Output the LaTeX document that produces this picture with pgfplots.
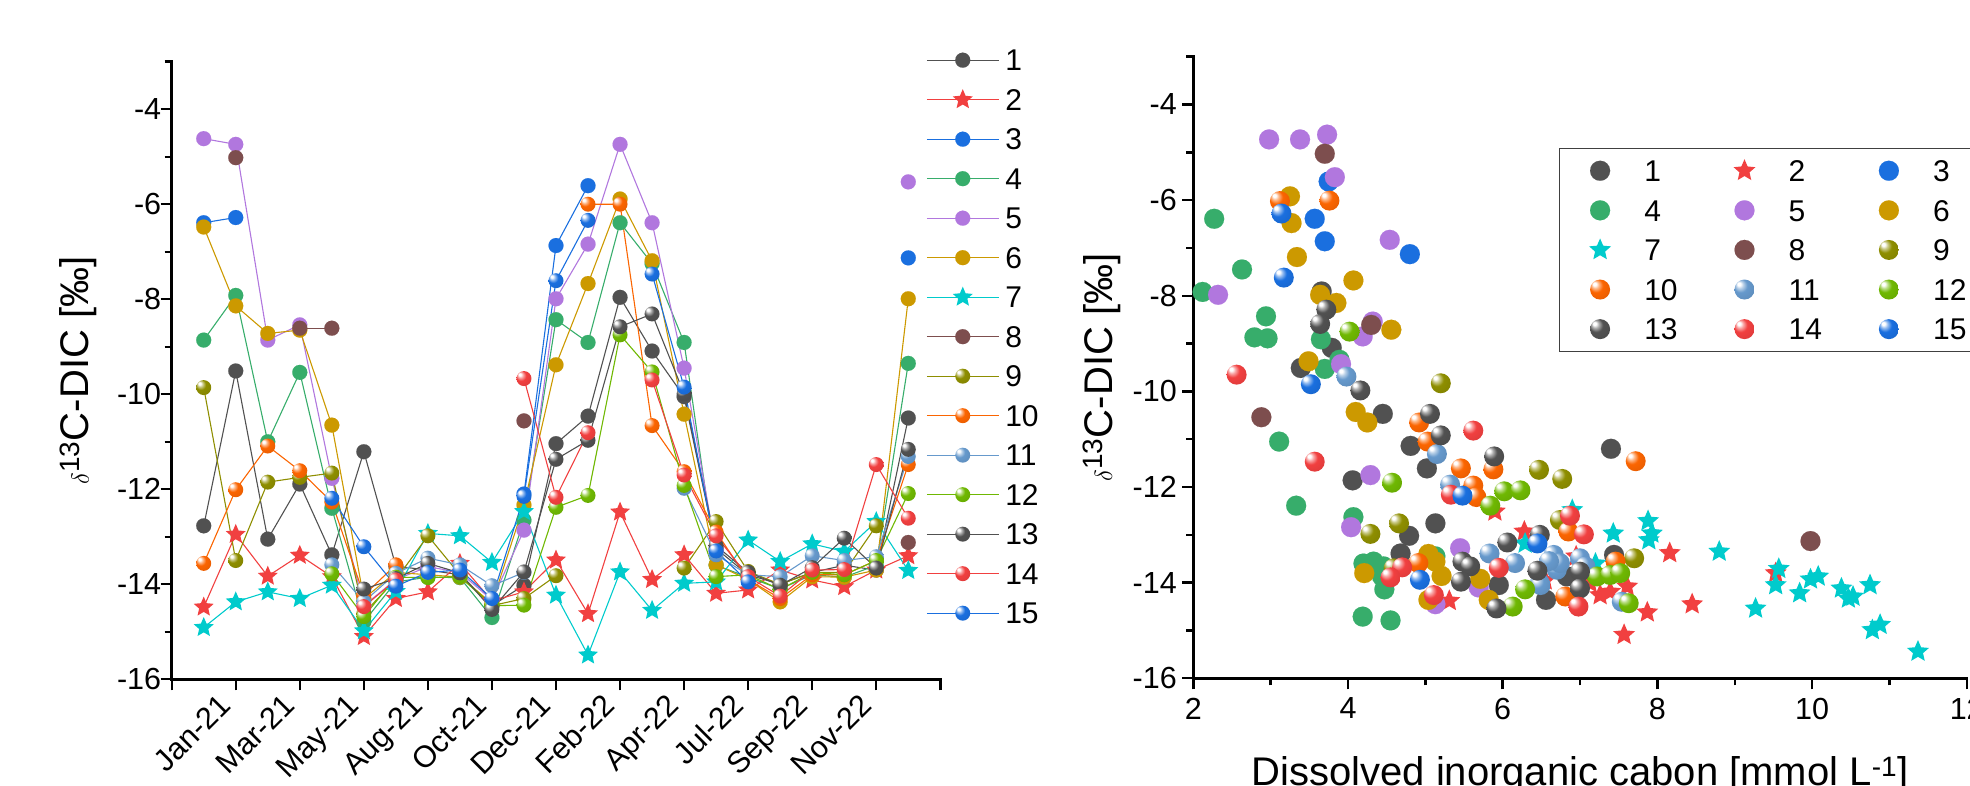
\documentclass[border=0pt]{standalone}
\usepackage{pgfplots}
\pgfplotsset{compat=1.18}
\usepackage{pgfplotstable}
\usepackage{fontspec}
\setmainfont{Liberation Sans}

\definecolor{c1}{HTML}{515151}
\definecolor{c2}{HTML}{F14040}
\definecolor{c3}{HTML}{1A6FDF}
\definecolor{c4}{HTML}{37AD6B}
\definecolor{c5}{HTML}{B177DE}
\definecolor{c6}{HTML}{CC9900}
\definecolor{c7}{HTML}{00CBCC}
\definecolor{c8}{HTML}{7D4E4E}
\definecolor{c9}{HTML}{8E8E00}
\definecolor{c10}{HTML}{FB6501}
\definecolor{c11}{HTML}{6699CC}
\definecolor{c12}{HTML}{6FB802}
\definecolor{c13}{HTML}{515151}
\definecolor{c14}{HTML}{F14040}
\definecolor{c15}{HTML}{1A6FDF}

\newcommand\defball[1]{%
 \pgfdeclareradialshading{ballsh#1}{\pgfqpoint{-15bp}{15bp}}{color(0bp)=(white); color(4bp)=(white); color(9bp)=(c#1!45!white); color(17bp)=(c#1); color(50bp)=(c#1!85!black)}%
 \pgfdeclareplotmark{ball#1}{\pgfpathcircle{\pgfpointorigin}{\pgfplotmarksize}\pgfshadepath{ballsh#1}{0}\pgfusepath{discard}}}
\defball{9}\defball{10}\defball{11}\defball{12}\defball{13}\defball{14}\defball{15}

\pgfdeclareplotmark{fstar}{%
 \pgfpathmoveto{\pgfpointpolar{90}{\pgfplotmarksize}}%
 \pgfpathlineto{\pgfpointpolar{126}{0.46\pgfplotmarksize}}%
 \pgfpathlineto{\pgfpointpolar{162}{\pgfplotmarksize}}%
 \pgfpathlineto{\pgfpointpolar{198}{0.46\pgfplotmarksize}}%
 \pgfpathlineto{\pgfpointpolar{234}{\pgfplotmarksize}}%
 \pgfpathlineto{\pgfpointpolar{270}{0.46\pgfplotmarksize}}%
 \pgfpathlineto{\pgfpointpolar{306}{\pgfplotmarksize}}%
 \pgfpathlineto{\pgfpointpolar{342}{0.46\pgfplotmarksize}}%
 \pgfpathlineto{\pgfpointpolar{18}{\pgfplotmarksize}}%
 \pgfpathlineto{\pgfpointpolar{54}{0.46\pgfplotmarksize}}%
 \pgfpathclose\pgfusepathqfill}

\pgfplotsset{
 myax/.style={scale only axis, axis lines*=left, clip=false,
  axis line style={line width=2.7pt, line cap=rect},
  tick align=outside, major tick length=11pt, minor tick length=7pt,
  tick style={line width=2.4pt, black},
  tick label style={font=\fontsize{30.5}{36}\selectfont},
  label style={font=\fontsize{40}{48}\selectfont},
  ymin=-16, ymax=-3, ytick={-16,-14,...,-4},
  yticklabels={-16,-14,-12,-10,-8,-6,-4},
  minor ytick={-15,-13,...,-3},
  unbounded coords=jump},
 lc/.style={line width=1.1pt, color=#1, mark=*, mark size=7.5pt, mark options={solid, line width=0.1pt, fill=#1, draw=#1}},
 ls/.style={line width=1.1pt, color=#1, mark=fstar, mark size=10.5pt, mark options={solid}},
 lb/.style={line width=1.1pt, color=c#1, mark=ball#1, mark size=7.5pt, mark options={solid}},
 rimg/.style={legend image code/.code={\path[draw=none,fill=none] (-16pt,-12pt) rectangle (16pt,12pt); \draw[##1] plot coordinates {(0pt,0pt)};}},
 rc/.style={only marks, color=#1, mark=*, mark size=10pt, mark options={line width=0.1pt, fill=#1, draw=#1}, rimg},
 rs/.style={only marks, color=#1, mark=fstar, mark size=11.5pt, rimg},
 rb/.style={only marks, color=c#1, mark=ball#1, mark size=10pt, rimg},
}

\pgfplotstableread{
n s1 s2 s3 s4 s5 s6 s7 s8 s9 s10 s11 s12 s13 s14 s15
1 -12.77 -14.48 -6.39 -8.86 -4.62 -6.48 -14.91 nan -9.86 -13.56 nan nan nan nan nan
2 -9.51 -12.95 -6.28 -7.92 -4.74 -8.14 -14.37 -5.02 -13.50 -12.01 nan nan nan nan nan
3 -13.05 -13.83 nan -11.00 -8.86 -8.72 -14.16 nan -11.85 -11.09 nan nan nan nan nan
4 -11.89 -13.39 nan -9.54 -8.54 -8.65 -14.30 -8.61 -11.75 -11.61 nan nan nan nan nan
5 -13.38 -13.84 nan -12.40 -11.77 -10.65 -14.02 -8.61 -11.66 -12.27 -13.59 -13.78 nan nan -12.19
6 -11.21 -15.10 nan -14.79 -14.45 -14.30 -14.98 nan -14.61 -14.23 -14.37 -14.68 -14.10 -14.47 -13.21
7 -13.62 -14.30 nan -13.95 -13.90 -13.75 -14.15 nan -13.90 -13.59 -13.77 -13.85 -13.88 -13.91 -14.04
8 -13.70 -14.16 nan -13.85 -13.63 -13.80 -12.93 nan -12.98 nan -13.45 -13.86 -13.56 nan -13.75
9 -13.80 -13.56 nan -13.86 -13.75 -13.85 -12.98 nan -13.80 nan -13.59 -13.84 -13.76 nan -13.70
10 -14.45 -14.35 nan -14.70 -14.33 -14.40 -13.54 nan -14.45 nan -14.03 -14.45 -14.53 nan -14.30
11 -14.02 -14.16 -12.10 -12.65 -12.86 -12.33 -12.47 -10.56 -14.30 nan -13.75 -14.44 -13.74 -9.67 -12.15
12 -11.04 -13.49 -6.87 -8.43 -7.99 -9.38 -14.23 nan -13.82 nan nan -12.38 -11.37 -12.17 -7.61
13 -10.46 -14.62 -5.61 -8.91 -6.84 -7.67 -15.49 nan nan -6.00 nan -12.13 -10.97 -10.81 -6.34
14 -7.96 -12.48 nan -6.39 -4.74 -5.89 -13.74 nan nan -6.00 nan -8.75 -8.58 nan nan
15 -9.09 -13.90 nan -7.25 -6.39 -7.19 -14.55 nan nan -10.66 nan -9.53 -8.31 -9.70 -7.47
16 -10.05 -13.38 nan -8.91 -9.45 -10.42 -13.98 nan -13.66 -11.63 -11.98 -11.92 -9.99 -11.70 -9.85
17 -13.25 -14.19 nan -13.60 -13.30 -13.59 -13.95 nan -12.68 -12.90 -13.38 -13.84 -13.19 -12.98 -13.30
18 -13.80 -14.12 nan -13.85 nan -13.90 -13.07 nan -13.73 -13.90 -13.80 -13.80 -13.75 -13.84 -13.95
19 -14.00 -13.70 nan -14.10 nan -14.37 -13.52 nan -14.00 -14.30 -13.84 -14.11 -14.02 -14.25 nan
20 -13.75 -13.91 nan -13.80 nan -13.84 -13.15 nan -13.75 -13.80 -13.40 -13.75 -13.65 -13.70 nan
21 -13.60 -14.05 nan -13.85 nan -13.85 -13.31 nan -13.75 -13.80 -13.50 -13.80 -13.03 -13.69 nan
22 -13.70 -13.70 nan -13.60 nan -13.70 -12.68 nan -12.77 -13.50 -13.42 -13.50 -13.66 -11.48 nan
23 -10.50 -13.40 -7.13 -9.35 -5.53 -7.99 -13.71 -13.12 nan -11.48 -11.31 -12.09 -11.16 -12.61 nan
}\leftdata

\begin{document}
\begin{tikzpicture}
\begin{axis}[myax, at={(171.7pt,106.7pt)}, anchor=south west,
  width=768.6pt, height=617.6pt,
  xmin=0, xmax=24, xtick={0,2,...,24},
  xticklabels={{},Jan-21,Mar-21,May-21,Aug-21,Oct-21,Dec-21,Feb-22,Apr-22,Jul-22,Sep-22,Nov-22,{}},
  xticklabel style={xshift=-3pt, yshift=-17pt, rotate=45, anchor=base east, inner sep=0pt},
  yticklabel style={xshift=4pt},
  ylabel={$\delta$\textsuperscript{13}C-DIC [‰]},
  ylabel style={at={(axis description cs:-0.1076,0.5)}, anchor=base},
  legend image code/.code={\path[draw=none,fill=none] (0pt,-12pt) rectangle (72pt,12pt); \draw[mark repeat=2,mark phase=2,#1] plot coordinates {(0pt,0pt) (36pt,0pt) (72pt,0pt)};},
  legend cell align=left,
  legend style={at={(axis description cs:0.9814,1.0222)}, anchor=north west, draw=none, fill=none,
    inner sep=0pt, row sep=15.5pt, font=\fontsize{30}{36}\selectfont,
    nodes={inner sep=0pt, text height=21.6pt, text depth=0pt},
    /tikz/every odd column/.append style={column sep=6pt}},
]
\addplot[lc=c1] table[x=n,y=s1] {\leftdata}; \addlegendentry{1}
\addplot[ls=c2] table[x=n,y=s2] {\leftdata}; \addlegendentry{2}
\addplot[lc=c3] table[x=n,y=s3] {\leftdata}; \addlegendentry{3}
\addplot[lc=c4] table[x=n,y=s4] {\leftdata}; \addlegendentry{4}
\addplot[lc=c5] table[x=n,y=s5] {\leftdata}; \addlegendentry{5}
\addplot[lc=c6] table[x=n,y=s6] {\leftdata}; \addlegendentry{6}
\addplot[ls=c7] table[x=n,y=s7] {\leftdata}; \addlegendentry{7}
\addplot[lc=c8] table[x=n,y=s8] {\leftdata}; \addlegendentry{8}
\addplot[lb=9] table[x=n,y=s9] {\leftdata}; \addlegendentry{9}
\addplot[lb=10] table[x=n,y=s10] {\leftdata}; \addlegendentry{10}
\addplot[lb=11] table[x=n,y=s11] {\leftdata}; \addlegendentry{11}
\addplot[lb=12] table[x=n,y=s12] {\leftdata}; \addlegendentry{12}
\addplot[lb=13] table[x=n,y=s13] {\leftdata}; \addlegendentry{13}
\addplot[lb=14] table[x=n,y=s14] {\leftdata}; \addlegendentry{14}
\addplot[lb=15] table[x=n,y=s15] {\leftdata}; \addlegendentry{15}
\end{axis}

\begin{axis}[myax, at={(1193.3pt,107.7pt)}, anchor=south west,
  width=773.4pt, height=621.6pt,
  xmin=2, xmax=12, xtick={2,4,...,12}, xticklabels={2,4,6,8,10,12},
  minor xtick={3,5,...,11},
  xticklabel style={yshift=-5pt},
  yticklabel style={xshift=-2pt},
  ylabel={$\delta$\textsuperscript{13}C-DIC [‰]},
  ylabel style={at={(axis description cs:-0.1051,0.5)}, anchor=base},
  xlabel={Dissolved inorganic cabon [mmol L\textsuperscript{-1}]},
  xlabel style={at={(axis description cs:0.5,-0.1717)}, anchor=base},
  legend columns=3, legend cell align=left,
  legend style={at={(axis description cs:0.4725,0.8536)}, anchor=north west, draw=black!75, line width=1.5pt, fill=white,
    inner xsep=24.6pt, inner ysep=10.3pt, row sep=15.6pt, font=\fontsize{30}{36}\selectfont,
    nodes={inner sep=0pt, text height=21.6pt, text depth=0pt, text width=45pt, align=left},
    /tikz/every odd column/.append style={column sep=28.2pt},
    /tikz/every even column/.append style={column sep=39.2pt}},
]
\addplot[rc=c1] coordinates {(3.66,-7.91) (3.79,-9.09) (3.39,-9.51) (4.45,-10.47) (4.81,-11.14) (5.02,-11.61) (4.06,-11.86) (5.13,-12.76) (4.79,-13.02) (4.68,-13.39) (5.95,-14.05) (6.56,-14.36) (7.40,-11.20) (6.83,-13.87) (7.44,-13.42)}; \addlegendentry{1}
\addplot[rs=c2] coordinates {(5.90,-12.51) (6.28,-12.93) (5.31,-14.38) (8.16,-13.38) (9.53,-13.80) (8.45,-14.45) (7.87,-14.62) (7.57,-15.09) (7.26,-14.26) (7.39,-14.19) (7.61,-14.08) (7.13,-14.01) (6.95,-13.45) (6.55,-13.95)}; \addlegendentry{2}
\addplot[rc=c3] coordinates {(3.75,-5.61) (3.57,-6.39) (3.70,-6.86) (4.80,-7.13)}; \addlegendentry{3}
\addplot[rc=c4] coordinates {(2.27,-6.39) (2.63,-7.45) (2.12,-7.92) (2.94,-8.43) (2.79,-8.87) (2.96,-8.89) (3.65,-8.91) (3.89,-9.34) (3.70,-9.53) (3.11,-11.05) (3.33,-12.39) (4.07,-12.63) (4.20,-13.60) (4.33,-13.56) (4.46,-13.66) (4.44,-13.87) (4.47,-14.14) (4.19,-14.71) (4.55,-14.79) (5.13,-13.45)}; \addlegendentry{4}
\addplot[rc=c5] coordinates {(2.98,-4.73) (3.38,-4.73) (3.73,-4.63) (3.83,-5.52) (4.54,-6.83) (2.32,-7.98) (4.32,-8.54) (4.19,-8.85) (3.91,-9.43) (4.29,-11.75) (4.04,-12.84) (5.45,-13.28) (5.13,-14.45) (5.69,-14.10)}; \addlegendentry{5}
\addplot[rc=c6] coordinates {(3.25,-5.92) (3.27,-6.48) (3.34,-7.19) (4.07,-7.68) (3.64,-7.98) (3.85,-8.15) (4.56,-8.71) (3.49,-9.37) (4.10,-10.43) (4.25,-10.65) (4.21,-13.80) (5.04,-13.40) (5.13,-13.56) (5.21,-13.86) (5.04,-14.36) (5.71,-13.92) (5.82,-14.36)}; \addlegendentry{6}
\addplot[rs=c7] coordinates {(6.29,-13.18) (6.90,-12.48) (7.43,-12.97) (7.88,-12.71) (7.93,-12.97) (7.89,-13.11) (8.80,-13.35) (9.57,-13.71) (9.53,-14.05) (9.84,-14.22) (9.98,-13.93) (10.08,-13.87) (10.38,-14.12) (10.47,-14.33) (10.53,-14.29) (10.75,-14.05) (10.78,-14.99) (10.88,-14.88) (11.37,-15.44) (9.27,-14.54) (7.20,-13.60)}; \addlegendentry{7}
\addplot[rc=c8] coordinates {(3.70,-5.03) (4.30,-8.61) (2.88,-10.54) (9.98,-13.13)}; \addlegendentry{8}
\addplot[rb=9] coordinates {(5.20,-9.83) (6.47,-11.64) (6.77,-11.83) (6.74,-12.69) (4.66,-12.76) (4.29,-12.98) (4.59,-13.70) (7.70,-13.49)}; \addlegendentry{9}
\addplot[rb=10] coordinates {(3.12,-6.02) (3.76,-6.01) (4.92,-10.65) (5.03,-11.05) (5.46,-11.61) (5.88,-11.63) (5.62,-11.97) (5.66,-12.21) (4.91,-13.59) (6.81,-14.29) (6.85,-12.93) (7.72,-11.46) (7.46,-13.56)}; \addlegendentry{10}
\addplot[rb=11] coordinates {(3.98,-9.69) (5.15,-11.31) (5.32,-11.95) (5.83,-13.39) (6.16,-13.59) (6.66,-13.42) (6.48,-14.01) (6.70,-13.73) (6.74,-13.59) (7.00,-13.49) (7.07,-13.66) (6.49,-14.05) (7.54,-14.40) (6.60,-13.55)}; \addlegendentry{11}
\addplot[rb=12] coordinates {(4.02,-8.75) (4.57,-11.91) (6.02,-12.09) (6.23,-12.07) (5.84,-12.39) (6.29,-14.14) (6.13,-14.50) (7.22,-13.87) (7.39,-13.84) (7.52,-13.80) (7.63,-14.43)}; \addlegendentry{12}
\addplot[rb=13] coordinates {(3.72,-8.29) (3.64,-8.59) (4.16,-9.98) (5.06,-10.47) (5.20,-10.92) (5.89,-11.36) (6.06,-13.16) (6.48,-13.00) (5.48,-13.56) (5.58,-13.66) (5.46,-13.98) (5.92,-14.54) (6.45,-13.75) (7.00,-13.77) (7.00,-14.12)}; \addlegendentry{13}
\addplot[rb=14] coordinates {(2.56,-9.65) (5.62,-10.82) (3.57,-11.47) (5.33,-12.16) (6.87,-12.60) (7.05,-12.99) (4.70,-13.68) (4.55,-13.89) (5.11,-14.26) (5.95,-13.69) (6.98,-14.50)}; \addlegendentry{14}
\addplot[rb=15] coordinates {(3.14,-6.28) (3.17,-7.62) (3.52,-9.85) (5.48,-12.18) (6.45,-13.18) (4.93,-13.94)}; \addlegendentry{15}
\end{axis}
\pgfresetboundingbox
\path[use as bounding box] (0pt,0pt) rectangle (1970pt,786pt);
\end{tikzpicture}
\end{document}
